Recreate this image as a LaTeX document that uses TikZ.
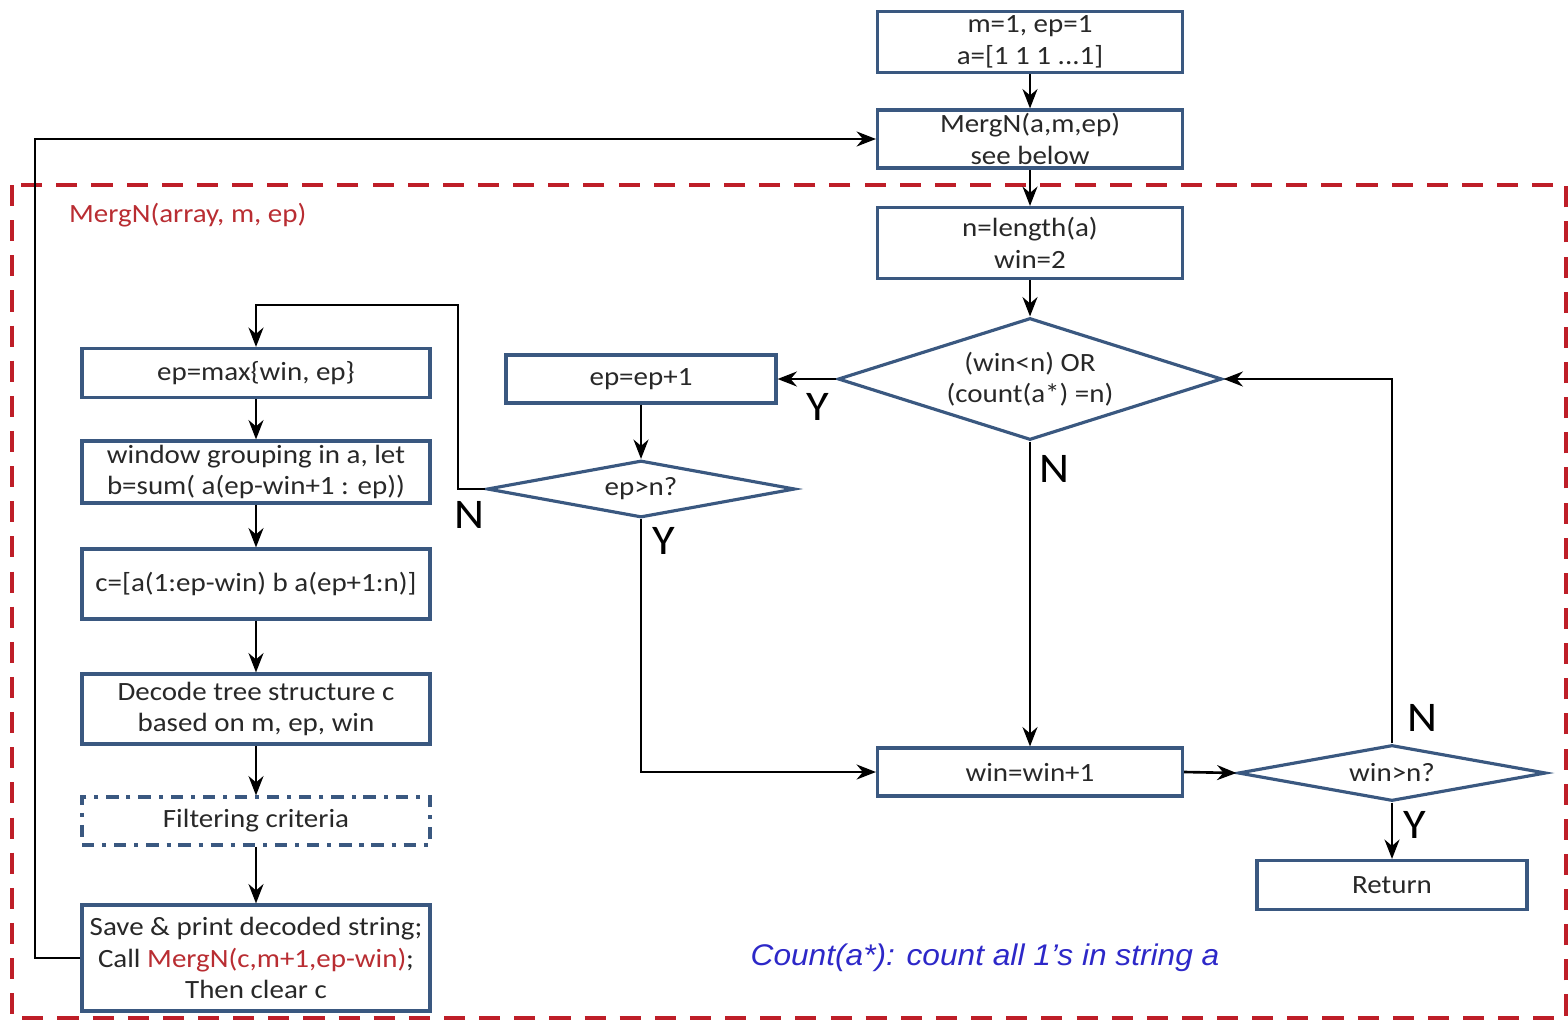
\documentclass[tikz,border=0pt]{standalone}
\usepackage{fontspec}
\setmainfont{Carlito}[FakeStretch=1.1]
\newfontfamily\arialfont{Liberation Sans}[FakeStretch=1.06]
\usetikzlibrary{arrows.meta,shapes.geometric}
\definecolor{boxblue}{RGB}{58,88,128}
\definecolor{frred}{RGB}{190,30,40}
\definecolor{txtred}{RGB}{185,45,50}
\definecolor{noteblue}{RGB}{45,40,200}
\definecolor{txtgray}{RGB}{40,40,40}

\begin{document}
\begin{tikzpicture}[x=0.02cm,y=-0.02cm,->,>={Stealth[length=11pt,width=8.5pt]},line width=1.5pt,
  proc/.style={rectangle,draw=boxblue,line width=1.8pt,fill=white,text=txtgray,align=center,inner sep=0pt,font=\fontsize{15}{18}\selectfont},
  decide/.style={diamond,draw=boxblue,line width=1.8pt,fill=white,text=txtgray,align=center,inner sep=0pt,font=\fontsize{15}{18}\selectfont},
  filterbox/.style={proc,dash pattern=on 7pt off 4.5pt on 2.3pt off 4.5pt},
  yn/.style={font=\fontsize{24}{24}\selectfont,inner sep=0pt},
  frame/.style={-,draw=frred,line width=2.2pt,dash pattern=on 12pt off 8pt}]

  \useasboundingbox (0,0) rectangle (1568,1021);

  % outer function frame
  \draw[frame] (12,185) rectangle (1566,1018);
  \node[txtred,anchor=west,font=\fontsize{15}{18}\selectfont] (title) at (62,215) {MergN(array, m, ep)};

  % main column
  \node[proc,minimum width=6.1cm,minimum height=1.22cm] (init) at (1030,42) {m=1, ep=1\\a=[1 1 1 ...1]};
  \node[proc,minimum width=6.1cm,minimum height=1.16cm] (merg) at (1030,139) {MergN(a,m,ep)\\see below};
  \node[proc,minimum width=6.1cm,minimum height=1.42cm] (nlen) at (1030,243) {n=length(a)\\win=2};
  \node[decide,aspect=3.15,minimum width=7.68cm,minimum height=2.44cm] (test) at (1030,379) {(win<n) OR\\(count(a*) =n)};
  \node[proc,minimum width=5.4cm,minimum height=0.96cm] (epinc) at (641,379) {ep=ep+1};
  \node[decide,aspect=5.4,minimum width=6.16cm,minimum height=1.14cm] (epgt) at (641,489) {ep>n?};
  \node[proc,minimum width=6.1cm,minimum height=0.96cm] (winup) at (1030,772) {win=win+1};
  \node[decide,aspect=5.5,minimum width=6.16cm,minimum height=1.12cm] (wingt) at (1392,773) {win>n?};
  \node[proc,minimum width=5.4cm,minimum height=0.98cm] (ret) at (1392,885) {Return};

  % left column
  \node[proc,minimum width=6.96cm,minimum height=0.98cm] (epmax) at (256,373) {ep=max\{win, ep\}};
  \node[proc,minimum width=6.96cm,minimum height=1.24cm] (group) at (256,472) {window grouping in a, let\\b=sum( a(ep-win+1 : ep))};
  \node[proc,minimum width=6.96cm,minimum height=1.4cm] (cvec) at (256,584) {c=[a(1:ep-win) b a(ep+1:n)]};
  \node[proc,minimum width=6.96cm,minimum height=1.4cm] (decode) at (256,709) {Decode tree structure c\\based on m, ep, win};
  \node[filterbox,minimum width=6.96cm,minimum height=0.96cm] (filter) at (256,821) {Filtering criteria};
  \node[proc,minimum width=6.96cm,minimum height=2.12cm] (save) at (256,958) {Save \& print decoded string;\\Call {\color{txtred}MergN(c,m+1,ep-win)};\\Then clear c};

  \node[noteblue,font=\arialfont\itshape\fontsize{17}{18}\selectfont] (note) at (985,958) {Count(a*): count all 1’s in string a};

  \coordinate (loopup) at (458,305);
  \coordinate (back) at (35,958);

  \draw (init) -- (merg);
  \draw (merg) -- (nlen);
  \draw (nlen) -- (test);
  \draw (test.west) -- (epinc.east);
  \draw (epinc) -- (epgt.north);
  \draw (epgt.west) -| (loopup) -| (epmax.north);
  \draw (epgt.south) |- (winup.west);
  \draw (test.south) -- (winup.north);
  \draw (winup.east) -- (wingt.west);
  \draw (wingt.north) |- (test.east);
  \draw (wingt.south) -- (ret.north);

  \draw (epmax) -- (group);
  \draw (group) -- (cvec);
  \draw (cvec) -- (decode);
  \draw (decode) -- (filter);
  \draw (filter) -- (save);
  \draw (save.west) -- (back) |- (merg.west);

  % branch labels
  \node[yn] (y1) at (818,407) {Y};
  \node[yn] (n1) at (1054,469) {N};
  \node[yn] (n2) at (469,515) {N};
  \node[yn] (y2) at (664,541) {Y};
  \node[yn] (n3) at (1422,718) {N};
  \node[yn] (y3) at (1415,825) {Y};
\end{tikzpicture}
\end{document}
